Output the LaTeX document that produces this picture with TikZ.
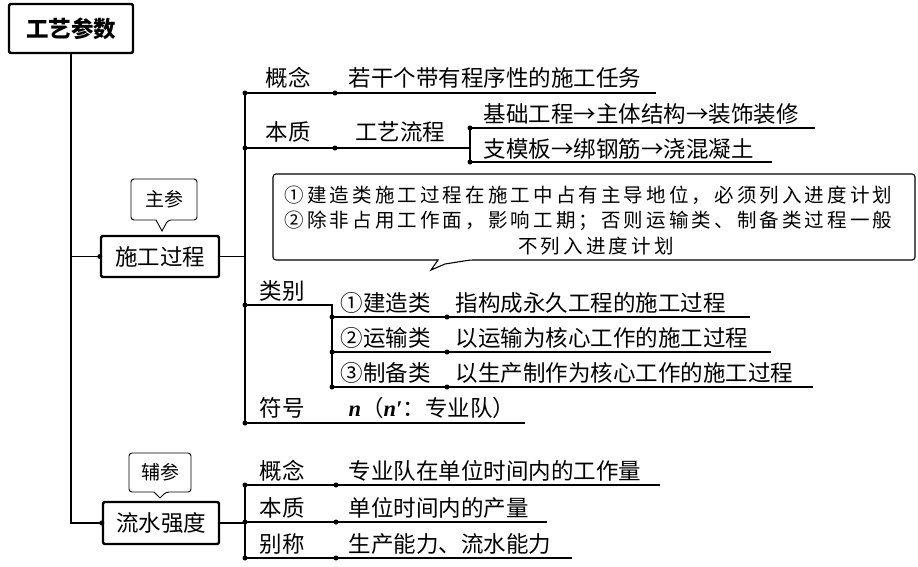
\documentclass[tikz,border=0pt]{standalone}
\usepackage{fontspec}
\setmainfont{Noto Sans CJK SC}
\newfontfamily\notefont[LetterSpace=16]{Noto Sans CJK SC}
\newfontfamily\latinserif{Liberation Serif}
\begin{document}
\begin{tikzpicture}[x=1pt,y=-1pt,
  line width=1.3pt,
  mainbox/.style={draw,line width=2.4pt,rounded corners=2pt,minimum width=118pt,minimum height=41pt,font=\fontsize{22.5}{24}\selectfont,inner sep=0},
  lbl/.style={font=\fontsize{22.5}{24}\selectfont,inner sep=0},
  lblw/.style={lbl,anchor=west},
  tagtxt/.style={font=\fontsize{19}{21}\selectfont,inner sep=0},
  notetxt/.style={font=\notefont\fontsize{19.5}{21}\selectfont,inner sep=0},
  bdot/.style={circle,fill,inner sep=0,minimum size=5pt},
  thin/.style={line width=0.9pt},
]
\useasboundingbox (0,0) rectangle (918,566);

% main boxes
\node[mainbox,minimum width=124pt,minimum height=49pt,font=\fontsize{22.5}{24}\selectfont\bfseries] (title) at (71,28.5) {工艺参数};
\node[mainbox] (sg) at (160,256.5) {施工过程};
\node[mainbox,minimum width=116pt,minimum height=42pt] (ls) at (161,523) {流水强度};

% tags
\node[tagtxt] (zc) at (164,199.5) {主参};
\draw[thin,rounded corners=3pt] (131,179) -- (197,179) -- (197,220) -- (168,220) [sharp corners] -- (162,231) -- (156,220) [rounded corners=3pt] -- (131,220) -- cycle;
\node[tagtxt] (fc) at (160,472.5) {辅参};
\draw[thin,rounded corners=3pt] (129,453) -- (191,453) -- (191,492) -- (166,492) [sharp corners] -- (160,498) -- (154,492) [rounded corners=3pt] -- (129,492) -- cycle;

% trunk
\coordinate (j1) at (71,256.5);
\draw (title.south) |- (ls.west);
\draw (j1) -- (sg.west);
\node[bdot] at (sg.west) {};
\node[bdot] at (ls.west) {};

% ===== 施工过程 branches
\coordinate (b1) at (245,256.5);
\draw (sg.east) -- (b1);
\draw (245,93) -- (245,423);

% 概念
\coordinate (g1a) at (245,93);
\coordinate (g1b) at (335,93);
\coordinate (g1c) at (656,93);
\draw (g1a) -- (g1c);
\node[bdot] at (g1a) {};
\node[bdot] at (g1b) {};
\node[lbl] (gn1) at (288,78) {概念};
\node[lblw] (gn1t) at (348,78) {若干个带有程序性的施工任务};

% 本质
\coordinate (bz1a) at (245,148);
\coordinate (bz1b) at (335,148);
\coordinate (bz1c) at (470,148);
\draw (bz1a) -- (bz1c);
\node[bdot] at (bz1a) {};
\node[bdot] at (bz1b) {};
\node[lbl] (bz1) at (288,132) {本质};
\node[lbl] (gylc) at (400,132) {工艺流程};
\coordinate (lc1a) at (470,128);
\coordinate (lc1b) at (815,128);
\coordinate (lc2a) at (470,162);
\coordinate (lc2b) at (772,162);
\draw (lc1a) -- (lc2a);
\draw (lc1a) -- (lc1b);
\draw (lc2a) -- (lc2b);
\node[bdot] at (lc1a) {};
\node[bdot] at (lc2a) {};
\node[lblw] (lc1t) at (483,114) {基础工程→主体结构→装饰装修};
\node[lblw] (lc2t) at (483,149) {支模板→绑钢筋→浇混凝土};

% note callout
\draw[line width=1.1pt,rounded corners=3pt] (273,174) -- (915,174) -- (915,260) -- (470,260) [sharp corners] -- (445,264) -- (431,270) -- (438,260) [rounded corners=3pt] -- (273,260) -- cycle;
\node[notetxt,anchor=west] (n1) at (284,195) {①建造类施工过程在施工中占有主导地位，必须列入进度计划};
\node[notetxt,anchor=west] (n2) at (284,221) {②除非占用工作面，影响工期；否则运输类、制备类过程一般};
\node[notetxt] (n3) at (596,246) {不列入进度计划};

% 类别
\coordinate (lb0) at (245,305);
\coordinate (lb1) at (332,305);
\draw (lb0) -- (lb1) -- (332,387);
\node[bdot] at (lb0) {};
\node[lbl] (lbt) at (282,291) {类别};
\foreach \yy/\xe/\na/\nb in {317/750/①建造类/指构成永久工程的施工过程, 352/771/②运输类/以运输为核心工作的施工过程, 387/813/③制备类/以生产制作为核心工作的施工过程}{
  \coordinate (s\yy a) at (332,\yy);
  \coordinate (s\yy b) at (447,\yy);
  \coordinate (s\yy c) at (\xe,\yy);
  \draw (s\yy a) -- (s\yy c);
  \node[bdot] at (s\yy a) {};
  \node[bdot] at (s\yy b) {};
  \node[lblw] (ka\yy) at (340,\yy-14) {\na};
  \node[lblw] (kb\yy) at (455,\yy-14) {\nb};
}

% 符号
\coordinate (fh0) at (245,423);
\coordinate (fh1) at (525,423);
\draw (fh0) -- (fh1);
\node[bdot] at (fh0) {};
\node[lbl] (fht) at (282,408) {符号};
\node[lblw] (fhv) at (348,408) {{\latinserif\bfseries\itshape n}（{\latinserif\bfseries\itshape n′}：专业队）};

% ===== 流水强度 branches
\coordinate (b2) at (245,523);
\draw (ls.east) -- (b2);
\draw (245,485) -- (245,558);
\foreach \yy/\xe/\na/\nb in {485/660/概念/专业队在单位时间内的工作量, 522/547/本质/单位时间内的产量, 558/572/别称/生产能力、流水能力}{
  \coordinate (t\yy a) at (245,\yy);
  \coordinate (t\yy b) at (336,\yy);
  \coordinate (t\yy c) at (\xe,\yy);
  \draw (t\yy a) -- (t\yy c);
  \node[bdot] at (t\yy a) {};
  \node[bdot] at (t\yy b) {};
  \node[lbl] (la\yy) at (282,\yy-14) {\na};
  \node[lblw] (lb\yy) at (348,\yy-14) {\nb};
}
\end{tikzpicture}
\end{document}
